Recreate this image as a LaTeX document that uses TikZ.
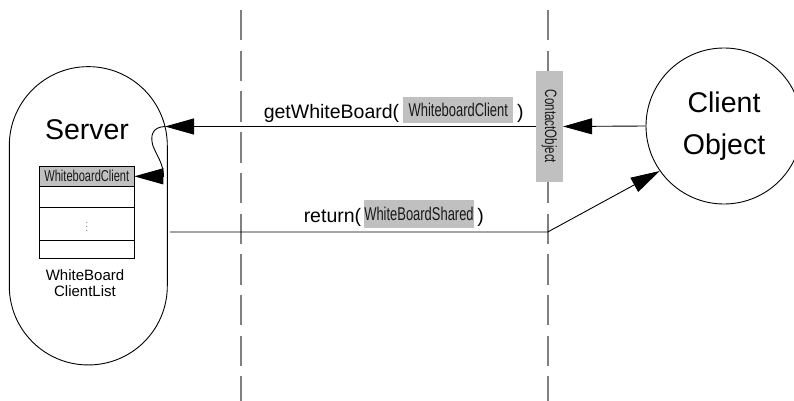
\documentclass[tikz,border=0pt]{standalone}
\usepackage{fontspec}
\setmainfont{Liberation Sans}
\newfontfamily\narrowfont[FakeStretch=0.7]{Liberation Sans}
\usetikzlibrary{arrows.meta,positioning}
\definecolor{boxgray}{HTML}{C0C0C0}
\definecolor{lanegray}{HTML}{808080}
\tikzset{
  msg/.style={-{Triangle[length=29pt,width=16pt]}},
  lane/.style={draw=lanegray, line width=1.6pt, dash pattern=on 30.5pt off 10.2pt},
  argbox/.style={fill=boxgray, inner sep=0pt, text=black!90,
    font=\narrowfont\fontsize{18.5}{18.5}\selectfont},
  listrow/.style={draw, inner sep=0pt, outer sep=0pt, minimum width=95pt},
  calltext/.style={anchor=base west, inner sep=0pt, font=\fontsize{19.5}{19.5}\selectfont},
}

\begin{document}
\begin{tikzpicture}[x=1pt,y=-1pt,line width=0.9pt]
  \useasboundingbox (0,0) rectangle (794,401);
  \clip (0,0) rectangle (794,401);
  % Lane separators
  \draw[lane] (241,10) -- (241,401);
  \draw[lane] (547.7,10) -- (547.7,401);

  % Server side
  \node[draw, rounded corners=78.9pt, minimum width=158pt, minimum height=298.3pt,
        inner sep=0pt] (server) at (88.3,215.8) {};
  \node[font=\fontsize{28.5}{28.5}\selectfont] (servername) at (87,130) {Server};
  \node[listrow, fill=boxgray, minimum height=20.7pt, text=black!90,
        font=\narrowfont\fontsize{15.8}{15.8}\selectfont] (listhead) at (86.8,176.35) {WhiteboardClient};
  \node[listrow, minimum height=20.6pt, below=0pt of listhead] (listrow2) {};
  \node[listrow, minimum height=33.4pt, below=0pt of listrow2, text=black!60] (listrow3)
        {\fontsize{9}{9}\selectfont$\vdots$};
  \node[listrow, minimum height=17.6pt, below=0pt of listrow3] (listrow4) {};
  \node[align=center, font=\fontsize{15}{16.7}\selectfont] (listname) at (85,283) {WhiteBoard\\ClientList};

  % Client side
  \node[draw, circle, minimum size=156pt, inner sep=0pt, align=center,
        font=\fontsize{28.5}{41.5}\selectfont] (client) at (724,126) {Client\\Object};
  \node[fill=boxgray, inner sep=0pt, minimum width=26.7pt, minimum height=110pt, text=black!90,
        font=\narrowfont\fontsize{16.5}{16.5}\selectfont] (contact) at (549.3,126.5) {\rotatebox{-90}{ContactObject}};

  % Call getWhiteBoard
  \coordinate (srvin) at (165,126.5);
  \coordinate (selfend) at (163.5,176.35);
  \draw[msg] (client.west) -- (contact.east);
  \draw[msg] (contact.west) -- (srvin);
  \draw[msg] (srvin) .. controls (152,127) and (150,136) .. (153,146)
    .. controls (157,156) and (163.5,164) .. (selfend) -- (listhead.east);
  \node[calltext] (getcall) at (263.3,118) {getWhiteBoard(};
  \node[argbox, minimum width=110pt, minimum height=26pt] (getarg) at (458.3,109.7) {WhiteboardClient};
  \node[calltext] (getclose) at (516.7,118) {)};

  % Return value
  \coordinate (retfrom) at (170,232);
  \coordinate (retbend) at (547.7,232);
  \draw[msg] (retfrom) -- (retbend) -- (client.215);
  \node[calltext] (retcall) at (303.3,222) {return(};
  \node[argbox, minimum width=110pt, minimum height=28pt] (retarg) at (419,214) {WhiteBoardShared};
  \node[calltext] (retclose) at (477,222) {)};
\end{tikzpicture}
\end{document}
